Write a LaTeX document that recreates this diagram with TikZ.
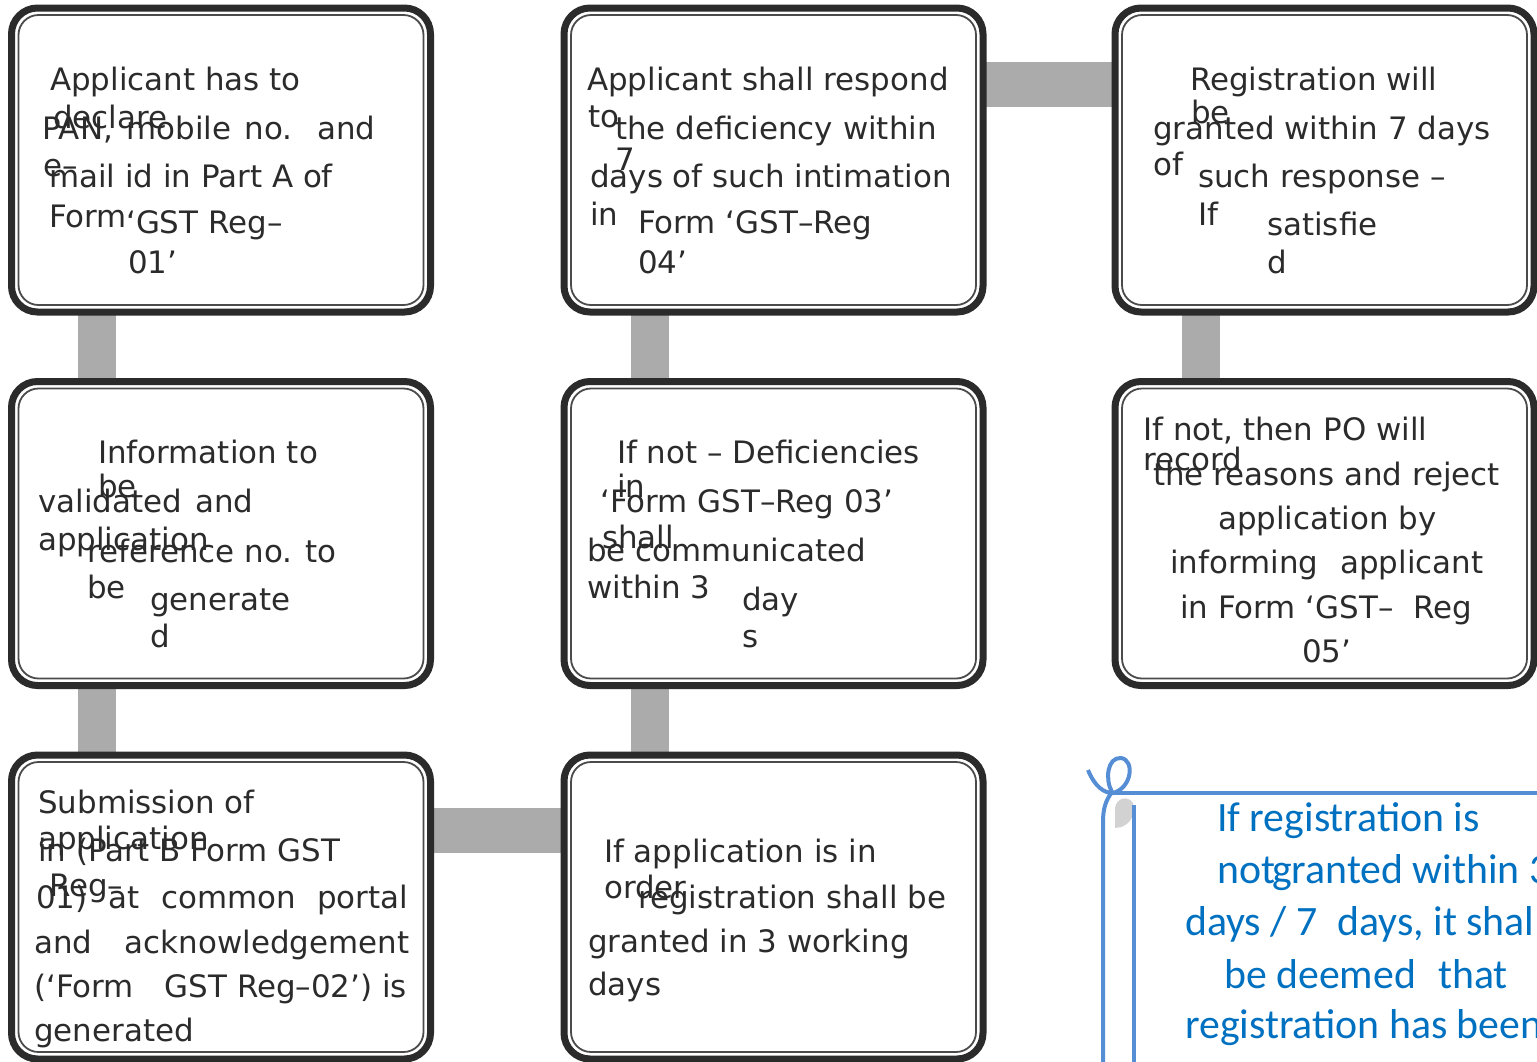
\documentclass[tikz,border=0pt]{standalone}
\usepackage{fontspec}
\setmainfont{DejaVu Sans}
\newfontfamily\scrollfont{Carlito}
\usetikzlibrary{backgrounds}

\definecolor{boxline}{HTML}{2B2B2B}
\definecolor{linkgray}{HTML}{ABABAB}
\definecolor{scrollline}{HTML}{558ED5}
\definecolor{scrolltext}{HTML}{0070C0}

\tikzset{
  box/.style={rectangle,rounded corners=26pt,draw=boxline,line width=7pt,fill=white,
    minimum width=419pt,minimum height=304pt,outer sep=0pt,inner sep=0pt},
  innerline/.style={draw=boxline!85,line width=1.8pt,rounded corners=20pt},
  vlink/.style={draw=linkgray,line width=38pt},
  hlink/.style={draw=linkgray,line width=45pt},
  txt/.style={anchor=base west,inner sep=0pt,text=boxline,font=\fontsize{30.9}{36}\selectfont},
  note/.style={anchor=base west,inner sep=0pt,text=scrolltext,font=\scrollfont\fontsize{41.8}{48}\selectfont},
  scroll/.style={draw=scrollline,line width=4pt}
}

\begin{document}
\begin{tikzpicture}[x=1pt,y=-1pt]
\useasboundingbox (0,0) rectangle (1537,1061);

% boxes
\node[box] (apply) at (221,160) {};
\node[box] (validate) at (221,533.5) {};
\node[box] (submit) at (221,907) {};
\node[box] (respond) at (773.5,160) {};
\node[box] (deficient) at (773.5,533.5) {};
\node[box] (inorder) at (773.5,907) {};
\node[box] (grant) at (1324.5,160) {};
\node[box] (reject) at (1324.5,533.5) {};
\foreach \b in {apply,validate,submit,respond,deficient,inorder,grant,reject}
  \draw[innerline] ([shift={(7,-7)}]\b.south west) rectangle ([shift={(-7,7)}]\b.north east);

% links
\begin{scope}[on background layer]
\draw[vlink] ([xshift=85.5pt]apply.south west) -- ([xshift=85.5pt]validate.north west);
\draw[vlink] ([xshift=85.5pt]validate.south west) -- ([xshift=85.5pt]submit.north west);
\draw[hlink] ([yshift=-75.5pt]submit.north east) -- ([yshift=-75.5pt]inorder.north west);
\draw[vlink] ([xshift=85.5pt]inorder.north west) -- ([xshift=85.5pt]deficient.south west);
\draw[vlink] ([xshift=85.5pt]deficient.north west) -- ([xshift=85.5pt]respond.south west);
\draw[hlink] ([yshift=-76.5pt]respond.north east) -- ([yshift=-76.5pt]grant.north west);
\draw[vlink] ([xshift=85.5pt]grant.south west) -- ([xshift=85.5pt]reject.north west);
\end{scope}

% apply
\node[txt] (apply-1) at (50,90) {Applicant has to};
\node[txt] (apply-2) at (53,128) {declare};
\node[txt] (apply-3) at (42,139) {\makebox[333pt][s]{PAN, mobile no. and}};
\node[txt] (apply-4) at (43,176) {e–};
\node[txt] (apply-5) at (49,187) {mail id in Part A of};
\node[txt] (apply-6) at (49,227) {Form};
\node[txt] (apply-7) at (126,233) {‘GST Reg–};
\node[txt] (apply-8) at (128,273) {01’};

% respond
\node[txt] (respond-1) at (587,90) {Applicant shall respond};
\node[txt] (respond-2) at (588,127) {to};
\node[txt] (respond-3) at (615,139) {the deficiency within};
\node[txt] (respond-4) at (615,170) {7};
\node[txt] (respond-5) at (590,187) {days of such intimation};
\node[txt] (respond-6) at (590,225) {in};
\node[txt] (respond-7) at (638,233) {Form ‘GST–Reg};
\node[txt] (respond-8) at (638,273) {04’};

% grant
\node[txt] (grant-1) at (1190,90) {Registration will};
\node[txt] (grant-2) at (1191,123) {be};
\node[txt] (grant-3) at (1153,139) {granted within 7 days};
\node[txt] (grant-4) at (1153,175) {of};
\node[txt] (grant-5) at (1198,187) {such response –};
\node[txt] (grant-6) at (1198,225) {If};
\node[txt] (grant-7) at (1267,235) {satisfie};
\node[txt] (grant-8) at (1267,273) {d};

% validate
\node[txt] (validate-1) at (98,463) {Information to};
\node[txt] (validate-2) at (98,497) {be};
\node[txt] (validate-3) at (38,512) {\makebox[215pt][s]{validated and}};
\node[txt] (validate-4) at (38,550) {application};
\node[txt] (validate-5) at (87,562) {reference no. to};
\node[txt] (validate-6) at (87,598) {be};
\node[txt] (validate-7) at (150,610) {generate};
\node[txt] (validate-8) at (150,647) {d};

% deficient
\node[txt] (deficient-1) at (617,463) {If not – Deficiencies};
\node[txt] (deficient-2) at (617,497) {in};
\node[txt] (deficient-3) at (600,512) {‘Form GST–Reg 03’};
\node[txt] (deficient-4) at (602,548) {shall};
\node[txt] (deficient-5) at (587,561) {be communicated};
\node[txt] (deficient-6) at (587,598) {within 3};
\node[txt] (deficient-7) at (742,610) {day};
\node[txt] (deficient-8) at (742,647) {s};

% reject
\node[txt] (reject-1) at (1143,440) {If not, then PO will};
\node[txt] (reject-2) at (1143,470) {record};
\node[txt] (reject-3) at (1153,485) {the reasons and reject};
\node[txt] (reject-4) at (1218,529) {application by};
\node[txt] (reject-5) at (1170,573) {\makebox[313pt][s]{informing applicant}};
\node[txt] (reject-6) at (1180,618) {in Form ‘GST–\hspace{20pt}Reg};
\node[txt] (reject-7) at (1302,662) {05’};

% submit
\node[txt] (submit-1) at (38,813) {Submission of};
\node[txt] (submit-2) at (38,849) {application};
\node[txt] (submit-3) at (38,861) {in (Part B Form GST};
\node[txt] (submit-4) at (49,896) {Reg–};
\node[txt] (submit-5) at (36,908) {\makebox[372pt][s]{01) at common portal}};
\node[txt] (submit-6) at (34,953) {\makebox[375pt][s]{and acknowledgement}};
\node[txt] (submit-7) at (34,997) {(‘Form\hspace{31pt}GST Reg–02’) is};
\node[txt] (submit-8) at (34,1041) {generated};

% inorder
\node[txt] (inorder-1) at (604,862) {If application is in};
\node[txt] (inorder-2) at (604,898) {order};
\node[txt] (inorder-3) at (638,908) {registration shall be};
\node[txt] (inorder-4) at (588,952) {granted in 3 working};
\node[txt] (inorder-5) at (588,995) {days};

% scroll note
\fill[gray!35] (1115,828) -- (1115,808) .. controls (1116,798) and (1128,795) .. (1133,803)
  -- (1133,815) .. controls (1130,824) and (1122,828) .. (1115,828);
\draw[scroll] (1113,793) -- (1560,793);
\draw[scroll] (1134,1070) -- (1134,805);
\draw[scroll] (1088,770) .. controls (1095,787) and (1104,793) .. (1113,793)
  .. controls (1132,788) and (1135,760) .. (1121,758)
  .. controls (1107,757) and (1105,780) .. (1112,792)
  .. controls (1106,800) and (1103,808) .. (1103,822) -- (1103,1070);
\node[note] (note-1) at (1217,831) {If registration is};
\node[note] (note-2) at (1217,883) {not};
\node[note] (note-3) at (1272,883) {granted within 3};
\node[note] (note-4) at (1185,935) {days / 7\hspace{20pt}days, it shall};
\node[note] (note-5) at (1224,988) {be deemed\hspace{22pt}that};
\node[note] (note-6) at (1185,1038) {registration has been};

\end{tikzpicture}
\end{document}
